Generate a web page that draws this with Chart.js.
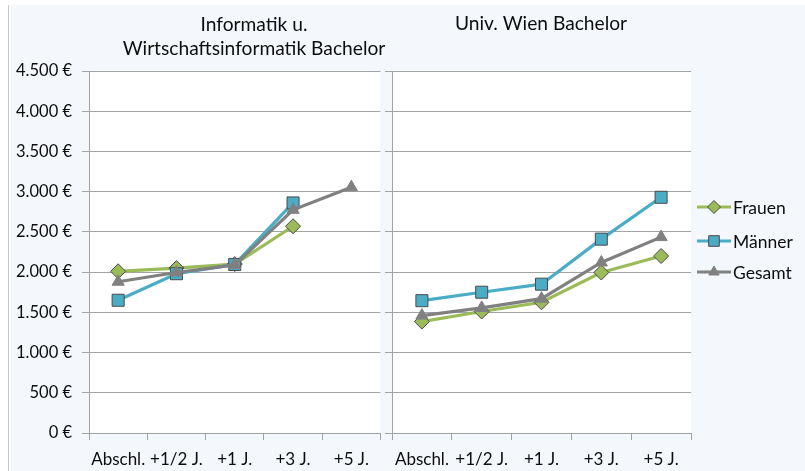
<!DOCTYPE html>
<html>
<head>
<meta charset="utf-8">
<script src="https://cdn.jsdelivr.net/npm/chart.js@4/dist/chart.umd.min.js"></script>
<style>
  body { margin: 0; background: #fff; width: 805px; height: 471px; overflow: hidden; position: relative; }
  #bg { position: absolute; left: 11px; top: 5px; width: 794px; height: 466px; background: #f4f7fc; }
  #edge { position: absolute; left: 8px; top: 5px; width: 1px; height: 466px; background: #c6c6c6; }
  canvas { position: absolute; top: 0; }
  #left { left: 0; }
  #right { left: 380px; }
</style>
</head>
<body>
<div id="bg"></div>
<div id="edge"></div>
<canvas id="left" width="390" height="471"></canvas>
<canvas id="right" width="425" height="471"></canvas>
<script>
// Kategorien und Werte
const categories = ['Abschl.', '+1/2 J.', '+1 J.', '+3 J.', '+5 J.'];
const seriesNames = ['Frauen', 'Männer', 'Gesamt'];

const infFrauen = [2010, 2050, 2100, 2570, null];
const infMaenner = [1650, 1980, 2095, 2860, null];
const infGesamt = [1880, 1995, 2090, 2775, 3055];

const wienFrauen = [1385, 1510, 1625, 1995, 2200];
const wienMaenner = [1645, 1750, 1850, 2410, 2930];
const wienGesamt = [1460, 1555, 1670, 2120, 2435];

const titleLeft = ['Informatik u.', 'Wirtschaftsinformatik Bachelor'];
const titleRight = ['Univ. Wien Bachelor'];

const FONT = 'Lato, "Open Sans", sans-serif';
const GRID = '#a3a3a3';
const TEXT = '#0d0d0d';

const styles = [
  { color: '#9bbb59', pointStyle: 'rectRot', radius: 7.5, border: '#4a4a4a' },
  { color: '#4bacc6', pointStyle: 'rect', radius: 8.5, border: '#4a4a4a' },
  { color: '#808080', pointStyle: 'triangle', radius: 7, border: '#808080' },
];

const fmtEuro = (v) => String(v).replace(/\B(?=(\d{3})+(?!\d))/g, '.') + ' €';

const makeDatasets = (values) =>
  values.map((data, i) => ({
    label: seriesNames[i],
    data: data,
    borderColor: styles[i].color,
    backgroundColor: styles[i].color,
    borderWidth: 3.2,
    pointStyle: styles[i].pointStyle,
    pointRadius: styles[i].radius,
    pointBackgroundColor: styles[i].color,
    pointBorderColor: styles[i].border,
    pointBorderWidth: 1,
    tension: 0,
    fill: false,
    order: 3 - i,
  }));

// weisser Plotbereich
const plotBg = {
  id: 'plotBg',
  beforeDraw: (chart) => {
    const { ctx, chartArea: a } = chart;
    ctx.save();
    ctx.fillStyle = '#ffffff';
    ctx.fillRect(a.left, a.top, a.right - a.left, a.bottom - a.top);
    ctx.restore();
  },
};

const titlePlugin = (lines, cx, firstY) => ({
  id: 'titles',
  afterDraw: (chart) => {
    const ctx = chart.ctx;
    ctx.save();
    ctx.font = '19.2px ' + FONT;
    ctx.fillStyle = TEXT;
    ctx.textAlign = 'center';
    ctx.textBaseline = 'middle';
    lines.forEach((t, i) => ctx.fillText(t, cx, firstY + i * 24));
    ctx.restore();
  },
});

const legendPlugin = {
  id: 'sideLegend',
  afterDraw: (chart) => {
    const ctx = chart.ctx;
    const ys = [207, 241, 272];
    chart.data.datasets.forEach((ds, i) => {
      const st = styles[i];
      const y = ys[i];
      ctx.save();
      ctx.strokeStyle = st.color;
      ctx.lineWidth = 3.2;
      ctx.beginPath();
      ctx.moveTo(317, y);
      ctx.lineTo(351, y);
      ctx.stroke();
      ctx.fillStyle = st.color;
      ctx.strokeStyle = st.border;
      ctx.lineWidth = 1;
      Chart.helpers.drawPoint(ctx, { pointStyle: st.pointStyle, radius: st.radius - 1, rotation: 0, borderWidth: 1 }, 334, y);
      ctx.fillStyle = TEXT;
      ctx.font = '17.5px ' + FONT;
      ctx.textBaseline = 'middle';
      ctx.textAlign = 'left';
      ctx.fillText(ds.label, 353, y + 1);
      ctx.restore();
    });
  },
};

const makeChart = (id, values, opts) =>
  new Chart(document.getElementById(id), {
    type: 'line',
    data: { labels: categories, datasets: makeDatasets(values) },
    plugins: [plotBg, ...opts.plugins],
    options: {
      responsive: false,
      animation: false,
      layout: { padding: { top: 71, bottom: 0, left: 0, right: opts.padRight } },
      plugins: { legend: { display: false }, tooltip: { enabled: false }, title: { display: false } },
      scales: {
        x: {
          offset: true,
          afterFit: (s) => { s.height = 38; },
          grid: { offset: true, drawOnChartArea: false, drawTicks: true, tickLength: 7, color: GRID },
          border: { display: true, color: GRID },
          ticks: { color: TEXT, font: { family: FONT, size: 17 }, padding: 9, maxRotation: 0, autoSkip: false },
        },
        y: {
          min: 0,
          max: 4500,
          afterFit: (s) => { s.width = opts.yWidth; },
          grid: { color: GRID, tickLength: 7, drawTicks: true },
          border: { display: true, color: GRID },
          ticks: {
            display: opts.showY,
            stepSize: 500,
            padding: 10,
            color: TEXT,
            font: { family: FONT, size: 16.5 },
            callback: (v) => fmtEuro(v),
          },
        },
      },
    },
  });

makeChart('left', [infFrauen, infMaenner, infGesamt], {
  yWidth: 89,
  padRight: 2,
  showY: true,
  plugins: [titlePlugin(titleLeft, 254, 25)],
});

makeChart('right', [wienFrauen, wienMaenner, wienGesamt], {
  yWidth: 12,
  padRight: 114,
  showY: false,
  plugins: [titlePlugin(titleRight, 161, 24), legendPlugin],
});
</script>
</body>
</html>
